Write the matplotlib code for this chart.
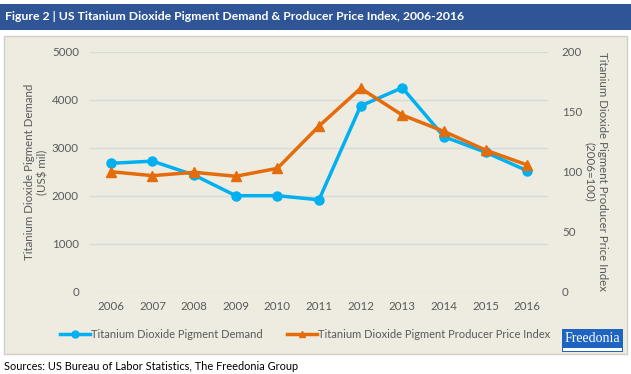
import numpy as np
import matplotlib.pyplot as plt
from matplotlib.patches import Rectangle
from matplotlib.lines import Line2D

plt.rcParams['font.family'] = ['Lato', 'DejaVu Sans']

# data
years = [2006, 2007, 2008, 2009, 2010, 2011, 2012, 2013, 2014, 2015, 2016]
demand = [2675, 2720, 2430, 2000, 2000, 1915, 3870, 4250, 3230, 2905, 2520]
price_index = [100, 96.7, 99.5, 96.2, 102.8, 138, 169.5, 147.2, 133.6, 118, 105.6]
demand_label = 'Titanium Dioxide Pigment Demand'
price_label = 'Titanium Dioxide Pigment Producer Price Index'

blue = '#00B0F0'
orange = '#E46C0A'
panel = '#EEECE1'
grey = '#595959'

W, H = 631, 374
fig = plt.figure(figsize=(W / 100, H / 100), dpi=100)
fig.patch.set_facecolor('white')

# title bar and chart panel
fig.patches.append(Rectangle((0 / W, 1 - 30 / H), 631 / W, 26 / H, transform=fig.transFigure,
                             facecolor='#2F5597', edgecolor='none', zorder=-2))
fig.patches.append(Rectangle((4 / W, 1 - 354 / H), 623 / W, 318 / H, transform=fig.transFigure,
                             facecolor=panel, edgecolor='#D0CEC6', linewidth=1, zorder=-2))
fig.text(5 / W, 1 - 17 / H, 'Figure 2 | US Titanium Dioxide Pigment Demand & Producer Price Index, 2006-2016',
         color='white', fontsize=8.8, fontweight='bold', va='center', ha='left')

ax = fig.add_axes([90 / W, 1 - 291.7 / H, 458 / W, 240 / H])
ax.set_facecolor('none')
ax2 = ax.twinx()
ax2.set_facecolor('none')

# demand on the left axis (drawn below), price index on the right axis (on top)
ax.plot(years, demand, color=blue, lw=2.5, marker='o', ms=6.5, zorder=3)
ax.set_ylim(0, 5000)
ax.set_xlim(2005.5, 2016.5)
ax.set_yticks(np.arange(0, 5001, 1000))
ax.set_xticks(years)
ax.grid(axis='y', color='#D9D9D9', lw=1)
ax.set_axisbelow(True)
for s in ax.spines.values():
    s.set_visible(False)
ax.tick_params(length=0, colors=grey, labelsize=8.3)
ax.tick_params(axis='y', pad=8)
ax.tick_params(axis='x', pad=7)

ax2.plot(years, price_index, color=orange, lw=2.5, marker='^', ms=6.5, zorder=3)
ax2.set_ylim(0, 200)
ax2.set_yticks(np.arange(0, 201, 50))
for s in ax2.spines.values():
    s.set_visible(False)
ax2.tick_params(length=0, colors=grey, labelsize=8.3, pad=10)

fig.text(36 / W, 1 - 172 / H, 'Titanium Dioxide Pigment Demand\n(US$ mil)', color=grey, fontsize=8.3,
         rotation=90, ha='center', va='center', multialignment='center', linespacing=1.25)
fig.text(596 / W, 1 - 172 / H, price_label + '\n(2006=100)', color=grey, fontsize=8.3,
         rotation=270, ha='center', va='center', multialignment='center', linespacing=1.25)

handles = [Line2D([], [], color=blue, lw=2.5, marker='o', ms=5),
           Line2D([], [], color=orange, lw=2.5, marker='^', ms=5)]
fig.legend(handles, [demand_label, price_label], loc='center left',
           bbox_to_anchor=(50 / W, 1 - 334 / H), ncol=2, frameon=False,
           fontsize=8.0, labelcolor=grey, handlelength=2.7, handletextpad=0.1, columnspacing=2.2)

# Freedonia logo
fig.patches.append(Rectangle((562 / W, 1 - 352 / H), 61 / W, 23 / H, transform=fig.transFigure,
                             facecolor='#1F64C0', edgecolor='none', zorder=2))
fig.patches.append(Rectangle((563 / W, 1 - 351 / H), 59 / W, 3 / H, transform=fig.transFigure,
                             facecolor='white', edgecolor='none', zorder=3))
fig.text(592.5 / W, 1 - 339 / H, 'Freedonia', color='white', fontsize=10, family='Liberation Serif',
         ha='center', va='center', zorder=4)

fig.text(4 / W, 1 - 366 / H, 'Sources: US Bureau of Labor Statistics, The Freedonia Group',
         color='black', fontsize=7.9, ha='left', va='center')

fig.savefig('out.png', dpi=100)
